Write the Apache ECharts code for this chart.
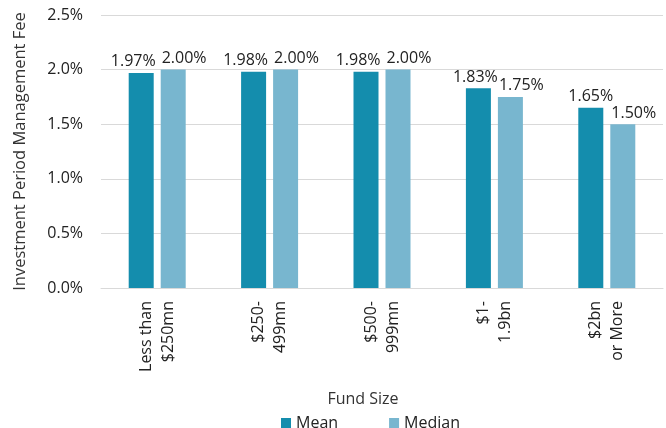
<!DOCTYPE html>
<html>
<head>
<meta charset="utf-8">
<script src="https://cdn.jsdelivr.net/npm/echarts@6/dist/echarts.min.js"></script>
<style>html,body{margin:0;padding:0;background:#fff}#c{width:666px;height:428px}</style>
</head>
<body>
<div id="c"></div>
<script>
const categories = ['Less than\n$250mn', '$250-\n499mn', '$500-\n999mn', '$1-\n1.9bn', '$2bn\nor More'];
const meanValues = [1.97, 1.98, 1.98, 1.83, 1.65];
const medianValues = [2.00, 2.00, 2.00, 1.75, 1.50];
const seriesNames = ['Mean', 'Median'];
const yAxisTitle = 'Investment Period Management Fee';
const xAxisTitle = 'Fund Size';

const FONT = '"Open Sans", "Noto Sans", sans-serif';
const chart = echarts.init(document.getElementById('c'), null, {renderer: 'canvas'});
const fmt = p => p.value.toFixed(2) + '%';
const baseLabel = {show: true, fontFamily: FONT, fontSize: 16, color: '#222', formatter: fmt};
// mean labels: right-aligned to bar's right edge where they would collide, centered otherwise
const meanData = meanValues.map((v, i) => ({
  value: v,
  label: i < 3
    ? {position: ['100%', 0], align: 'right', verticalAlign: 'bottom', offset: [2, -3]}
    : (i === 3 ? {position: 'top', distance: 3, offset: [-3, 0]} : {position: 'top', distance: 3})
}));
// median labels: left-aligned to bar's left edge
const medianData = medianValues.map(v => ({
  value: v,
  label: {position: [0, 0], align: 'left', verticalAlign: 'bottom', offset: [1, -3]}
}));
chart.setOption({
  animation: false,
  textStyle: {fontFamily: FONT},
  grid: {left: 101, right: 3, top: 15, bottom: 140},
  legend: {
    data: seriesNames, top: 410, left: 276,
    itemWidth: 10, itemHeight: 10, itemGap: 51,
    icon: 'rect',
    textStyle: {fontFamily: FONT, fontSize: 16, color: '#222'}
  },
  xAxis: {
    type: 'category', data: categories,
    name: xAxisTitle, nameLocation: 'middle', nameGap: 103,
    nameTextStyle: {fontFamily: FONT, fontSize: 16, color: '#333', padding: [0, 38, 0, 0]},
    axisLine: {lineStyle: {color: '#d9d9d9', width: 1}},
    axisTick: {show: false},
    axisLabel: {rotate: 90, fontFamily: FONT, fontSize: 16, color: '#222', margin: 13, lineHeight: 22, interval: 0}
  },
  yAxis: {
    type: 'value', min: 0, max: 2.5, interval: 0.5,
    name: yAxisTitle, nameLocation: 'middle', nameGap: 72, nameRotate: 90,
    nameTextStyle: {fontFamily: FONT, fontSize: 16.5, color: '#333'},
    axisLine: {show: false}, axisTick: {show: false},
    splitLine: {lineStyle: {color: '#d9d9d9', width: 1}},
    axisLabel: {fontFamily: FONT, fontSize: 16, color: '#222', margin: 18, formatter: v => v.toFixed(1) + '%'}
  },
  series: [
    {name: seriesNames[0], type: 'bar', data: meanData, barWidth: 25, barGap: '28%',
     itemStyle: {color: '#148DAD'}, label: baseLabel},
    {name: seriesNames[1], type: 'bar', data: medianData, barWidth: 25,
     itemStyle: {color: '#78B6CF'}, label: baseLabel}
  ]
});
</script>
</body>
</html>
